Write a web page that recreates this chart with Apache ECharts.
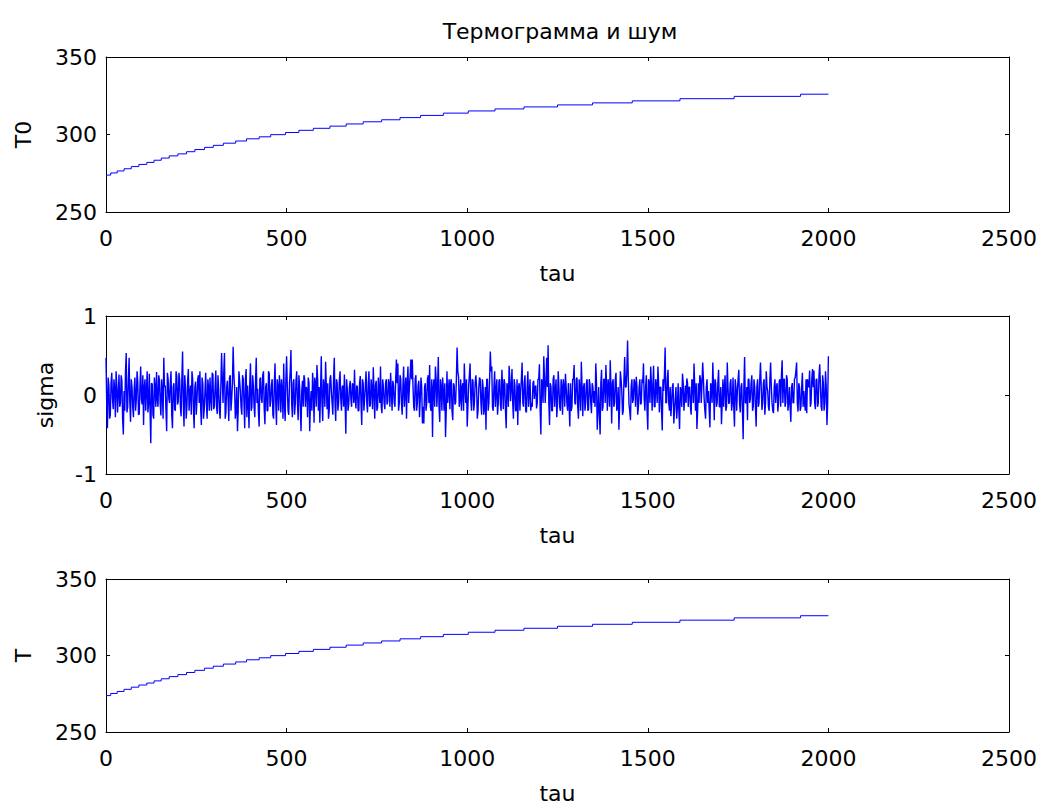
<!DOCTYPE html>
<html><head><meta charset="utf-8">
<script src="https://cdn.jsdelivr.net/npm/echarts@6/dist/echarts.min.js"></script>
<style>html,body{margin:0;padding:0;background:#fff}#c{width:1040px;height:805px}</style>
</head><body><div id="c"></div>
<script>
// ---- data ----
const titleText = 'Термограмма и шум';
const tauMin = 0, tauMax = 2500, tauInterval = 500;
const tauEnd = 2000;
// staircase of the thermogram: tau where each level starts, and the level
const t0StepTau = [0,13,31,50,70,91,113,133,153,175,199,223,246,273,297,325,359,389,424,456,
  497,534,574,620,665,712,763,814,871,934,1003,1077,1157,1250,1347,1457,1589,1739,1923];
const t0Level = [273.8,275.2,276.5,277.9,279.3,280.7,282.0,283.4,284.8,286.2,287.5,288.9,290.3,291.7,
  293.0,294.4,295.8,297.2,298.5,299.9,301.3,302.7,304.0,305.4,306.8,308.2,309.5,310.9,312.3,313.8,
  315.2,316.5,317.8,319.1,320.4,321.7,323.1,324.6,326.0];
// T (bottom panel) reads the same as T0 at this scale
const tStepTau = t0StepTau.slice();
const tLevel = t0Level.slice();
// noise: sigmaA at tau = 0,4,8,...,2000 ; sigmaB at tau = 2,6,10,...,1998
const sigmaDTau = 4;
const sigmaA = [
 0.47,-0.42,0.12,-0.25,0.28,-0.18,0.08,0.3,-0.22,0.26,-0.1,0.18,-0.5,-0.2,0.53,-0.15,0.47,-0.34,0.1,-0.28,0.22,-0.05,0.16,-0.24,0.36,
 -0.12,-0.38,0.2,0.05,-0.22,0.27,-0.61,0.14,-0.3,0.1,0.29,-0.15,0.18,-0.26,0.06,0.47,0.12,-0.46,0.2,-0.1,0.3,-0.42,0.15,-0.2,0.24,
 -0.08,0.19,-0.27,0.55,-0.4,0.1,-0.15,0.33,0.02,-0.25,0.2,-0.42,0.17,-0.05,0.25,0.3,-0.38,0.14,-0.18,0.28,-0.3,0.09,0.22,-0.2,0.26,
 -0.14,0.31,-0.24,0.07,-0.3,0.53,-0.1,0.53,-0.22,0.18,-0.33,0.25,-0.05,0.61,0.1,-0.2,-0.46,0.3,0.05,-0.25,0.2,-0.42,0.33,0.12,-0.42,
 0.4,-0.15,0.12,-0.28,0.47,0.08,-0.4,0.22,-0.1,0.3,-0.37,0.15,-0.2,0.27,-0.08,0.2,-0.3,0.4,-0.38,0.1,0.25,-0.22,0.05,0.4,-0.33,
 0.49,-0.2,0.15,0.57,-0.28,0.2,-0.12,0.3,-0.32,0.1,-0.46,0.18,0.25,-0.15,0.08,0.22,-0.46,0.05,0.28,-0.35,0.15,0.38,-0.2,-0.35,0.49,
 -0.33,0.1,0.42,-0.18,-0.3,0.2,0.05,-0.25,0.47,-0.33,0.15,-0.1,0.3,-0.2,0.12,0.26,-0.49,0.08,-0.12,0.18,-0.15,0.12,0.32,-0.17,0.1,
 -0.2,0.24,-0.38,0.15,-0.05,0.3,-0.22,0.3,-0.12,0.08,0.35,-0.3,0.18,-0.15,0.05,0.36,-0.23,0.1,-0.18,0.2,-0.08,0.14,0.28,-0.2,0.12,
 -0.15,0.45,0.4,-0.1,0.2,-0.25,0.36,0.05,-0.3,0.36,0.1,0.45,0.45,-0.15,0.2,-0.2,0.12,-0.28,0.22,-0.36,-0.36,0.15,-0.1,0.25,0.38,
 -0.2,-0.53,0.2,0.36,-0.15,0.48,-0.34,0.1,0.22,-0.2,-0.53,0.3,0.05,-0.18,0.2,-0.32,0.12,-0.1,0.6,0.23,-0.05,-0.2,0.15,0.4,-0.1,
 -0.4,0.12,0.4,-0.2,0.18,-0.1,0.25,-0.3,0.08,0.2,-0.25,0.1,-0.15,-0.44,0.2,-0.1,0.55,0.36,-0.2,0.3,0.05,-0.25,0.18,-0.12,0.32,
 -0.18,0.15,-0.42,0.1,0.37,-0.08,0.33,-0.3,0.12,-0.2,-0.38,0.15,0.05,0.41,-0.15,0.25,-0.22,0.3,0.02,-0.2,-0.15,0.18,0.1,-0.17,0.2,
 0.39,-0.5,0.15,0.49,-0.1,0.47,0.63,-0.38,0.1,-0.2,0.25,0.05,-0.28,0.3,-0.15,0.2,-0.25,0.12,0.27,-0.1,0.15,-0.4,-0.2,0.2,0.38,
 -0.12,0.22,-0.3,0.08,0.42,-0.27,0.15,-0.1,0.2,-0.18,0.13,-0.23,0.1,0.05,0.4,-0.44,0.1,-0.5,0.32,-0.15,0.2,0.38,-0.2,0.12,0.44,
 -0.36,0.2,-0.1,0.28,-0.15,-0.44,0.3,0.05,-0.2,0.48,0.1,0.69,-0.12,-0.32,0.2,-0.05,0.15,0.23,-0.25,0.1,-0.12,0.2,0.4,-0.2,0.25,
 -0.44,0.15,0.36,-0.2,0.37,-0.15,0.12,0.36,-0.22,0.1,-0.45,0.05,0.6,-0.1,0.32,-0.2,-0.27,0.1,-0.36,-0.05,-0.3,0.15,-0.43,0.05,0.27,
 -0.2,0.12,0.21,-0.15,0.1,-0.25,0.18,0.4,-0.2,-0.43,0.15,0.25,-0.1,0.41,-0.05,-0.3,0.2,0.05,-0.41,0.1,0.41,-0.32,0.15,-0.1,0.32,
 -0.15,-0.37,0.2,0.1,-0.2,0.41,-0.11,0.15,-0.2,0.22,-0.4,0.1,0.05,0.32,-0.22,0.15,-0.56,0.48,-0.1,-0.32,0.2,-0.05,0.25,-0.15,0.1,
 -0.4,0.2,-0.1,0.41,-0.19,0.15,-0.25,0.3,0.05,-0.2,0.41,-0.1,-0.23,0.2,0.1,-0.21,0.18,-0.15,0.44,0.2,-0.15,0.25,-0.2,0.1,-0.34,
 0.15,-0.1,0.22,0.41,-0.21,0.1,-0.15,0.28,0.05,-0.2,-0.23,0.12,0.31,-0.1,0.33,0.31,-0.18,0.2,-0.1,0.39,-0.15,0.25,-0.2,0.3,-0.38,
 0.49
];
const sigmaB = [
 -0.1,0.22,-0.3,0.15,-0.05,0.2,-0.28,0.1,0.02,-0.15,0.25,-0.3,0.05,0.3,-0.22,0.18,-0.1,0.2,-0.15,0.08,-0.2,0.3,-0.25,0.1,-0.05,
 0.25,0.1,-0.2,0.3,-0.1,-0.2,0.15,-0.25,0.22,-0.15,-0.05,0.25,-0.1,0.2,-0.3,0.1,-0.2,0.28,-0.05,0.15,-0.25,0.1,-0.18,0.3,-0.12,
 0.28,-0.15,0.2,-0.1,0.25,-0.3,0.18,-0.2,0.12,0.3,-0.18,0.1,-0.25,0.2,-0.1,-0.15,0.22,-0.3,0.05,-0.12,0.2,-0.2,-0.05,0.28,-0.18,
 0.1,-0.15,0.25,-0.2,0.12,0.2,0.28,-0.3,0.1,-0.05,0.22,-0.2,0.15,0.25,-0.3,0.1,-0.2,0.18,-0.15,0.25,-0.1,0.2,-0.28,-0.1,0.15,
 -0.2,0.25,-0.15,0.18,-0.1,-0.22,0.2,-0.05,0.25,-0.18,0.1,-0.2,0.3,-0.15,0.12,-0.25,0.15,-0.1,0.2,-0.2,0.1,0.2,-0.3,-0.1,0.2,
 0.1,-0.25,0.3,-0.1,0.15,-0.25,0.18,-0.1,0.25,-0.2,0.05,-0.15,0.2,0.1,-0.28,0.15,-0.1,-0.2,0.1,0.22,-0.15,0.2,0.1,0.05,-0.1,
 0.2,-0.15,0.1,0.15,-0.2,0.25,-0.1,0.2,-0.1,0.2,-0.2,0.18,-0.05,0.1,-0.15,-0.1,0.2,-0.2,0.1,-0.05,0.15,-0.1,-0.05,0.12,-0.2,
 0.15,-0.1,0.2,-0.2,0.12,-0.1,0.15,-0.15,0.2,-0.18,0.05,0.12,-0.2,0.22,-0.1,-0.15,0.2,-0.1,0.15,-0.12,0.2,-0.15,0.05,0.18,-0.1,
 0.2,0.15,-0.2,0.25,-0.1,0.1,-0.15,0.22,0.15,-0.1,0.25,0.2,0.1,-0.2,0.25,-0.1,0.18,-0.05,0.1,-0.15,0.1,-0.2,0.2,-0.1,-0.15,
 0.2,0.1,-0.15,0.2,0.1,-0.15,0.2,-0.2,0.05,0.15,-0.2,-0.1,0.2,0.15,-0.2,0.15,-0.12,0.2,0.3,-0.15,0.2,0.1,-0.2,0.1,0.2,
 -0.15,0.25,-0.05,0.2,-0.2,0.15,0.1,-0.2,0.22,-0.1,0.2,-0.25,0.1,0.2,-0.2,0.2,0.3,-0.15,0.1,-0.15,0.2,-0.1,0.2,-0.2,0.1,
 0.2,-0.2,0.15,-0.15,0.2,0.1,-0.1,0.2,-0.2,0.2,0.1,-0.2,0.2,-0.1,0.15,-0.2,0.1,-0.15,0.2,-0.1,0.15,-0.05,0.12,-0.1,0.2,
 -0.2,0.2,-0.1,0.2,0.15,0.1,-0.1,0.15,-0.2,0.2,-0.15,0.2,-0.1,0.1,-0.2,0.1,0.2,-0.15,0.1,-0.2,-0.1,0.15,-0.15,0.2,-0.1,
 0.2,-0.15,0.2,-0.2,0.1,0.1,-0.2,0.15,-0.2,0.2,-0.1,0.15,-0.1,-0.15,0.15,-0.2,-0.25,0.15,-0.2,0.2,-0.1,0.1,0.2,-0.15,0.1,
 0.15,-0.15,0.2,-0.2,0.1,-0.15,0.2,-0.25,0.2,0.1,0.3,0.2,-0.2,0.1,-0.1,0.2,-0.15,0.1,-0.15,0.2,-0.1,0.15,-0.05,0.1,-0.2,
 0.2,-0.1,0.15,0.1,-0.15,0.2,-0.1,0.15,0.1,-0.2,0.2,0.25,-0.1,0.2,-0.1,0.1,-0.1,0.15,-0.2,0.1,-0.15,-0.2,0.1,-0.15,0.15,
 -0.05,-0.1,0.15,0.1,-0.15,0.2,-0.1,0.1,0.15,-0.2,-0.1,0.2,0.15,0.2,-0.2,0.1,-0.1,-0.2,0.15,-0.1,0.1,0.2,-0.15,0.15,-0.15,
 0.1,-0.1,-0.15,0.25,-0.15,0.1,-0.1,0.2,-0.1,-0.15,0.2,-0.2,0.2,-0.1,0.1,-0.2,0.1,-0.1,0.1,0.2,-0.1,0.15,-0.2,0.2,-0.15,
 0.1,-0.15,0.2,0.1,-0.1,0.2,-0.1,0.1,-0.15,0.2,0.1,-0.2,0.1,-0.1,0.15,-0.1,0.2,0.25,-0.1,0.2,-0.1,0.2,-0.1,-0.15,0.1,
 -0.1,0.2,0.3,-0.1,0.15,-0.2,0.1,-0.15,-0.1,0.2,0.2,0.1,-0.15,0.2,0.1,-0.1,0.2,-0.15,0.25,0.1,-0.2,0.15,-0.1,0.1,-0.1
];
const t0Axis = {min: 250, max: 350, interval: 50};
const sigmaAxis = {min: -1, max: 1, interval: 1};
const tAxis = {min: 250, max: 350, interval: 50};

// ---- build ----
// explicit staircase corners: each level held flat until the next step tau
function stairs(taus, levels, end) {
  const d = [];
  for (let i = 0; i < taus.length; i++) {
    const next = i + 1 < taus.length ? taus[i + 1] : end;
    d.push([taus[i], levels[i]]);
    d.push([next, levels[i]]);
  }
  return d;
}
const t0Data = stairs(t0StepTau, t0Level, tauEnd);
const tData = stairs(tStepTau, tLevel, tauEnd);
const sigmaData = [];
sigmaA.forEach((v, i) => {
  sigmaData.push([i * sigmaDTau, v]);
  if (i < sigmaB.length) sigmaData.push([i * sigmaDTau + sigmaDTau / 2, sigmaB[i]]);
});

const FONT = 'DejaVu Sans';
const FS = 22;
const black = '#000';
const grids = [
  {left: 106, top: 57, width: 903, height: 155},
  {left: 106, top: 316, width: 903, height: 158},
  {left: 106, top: 579, width: 903, height: 155}
];
const yNames = ['T0', 'sigma', 'T'];
const yGaps = [72, 50, 72];
const yRanges = [t0Axis, sigmaAxis, tAxis];
const plain = v => String(v);

const xAxes = [], yAxes = [];
grids.forEach((g, i) => {
  const lineCommon = {show: true, onZero: false, lineStyle: {color: black, width: 1}};
  const tickCommon = {show: true, inside: true, length: 4, lineStyle: {color: black, width: 1}};
  xAxes.push({
    gridIndex: i, type: 'value', position: 'bottom', min: tauMin, max: tauMax, interval: tauInterval,
    axisLine: lineCommon, axisTick: tickCommon, splitLine: {show: false},
    axisLabel: {show: true, color: black, fontFamily: FONT, fontSize: FS, margin: 15, formatter: plain, showMinLabel: true, showMaxLabel: true},
    name: 'tau', nameLocation: 'middle', nameGap: 50,
    nameTextStyle: {color: black, fontFamily: FONT, fontSize: FS}
  });
  xAxes.push({
    gridIndex: i, type: 'value', position: 'top', min: tauMin, max: tauMax, interval: tauInterval,
    axisLine: lineCommon, axisTick: tickCommon, splitLine: {show: false}, axisLabel: {show: false}
  });
  const r = yRanges[i];
  yAxes.push({
    gridIndex: i, type: 'value', position: 'left', min: r.min, max: r.max, interval: r.interval,
    axisLine: lineCommon, axisTick: tickCommon, splitLine: {show: false},
    axisLabel: {show: true, color: black, fontFamily: FONT, fontSize: FS, margin: 9, formatter: plain, showMinLabel: true, showMaxLabel: true},
    name: yNames[i], nameLocation: 'middle', nameGap: yGaps[i], nameRotate: 90,
    nameTextStyle: {color: black, fontFamily: FONT, fontSize: FS}
  });
  yAxes.push({
    gridIndex: i, type: 'value', position: 'right', min: r.min, max: r.max, interval: r.interval,
    axisLine: lineCommon, axisTick: tickCommon, splitLine: {show: false}, axisLabel: {show: false}
  });
});

const blue = '#0000ff';
const base = {type: 'line', showSymbol: false, symbol: 'none', animation: false,
  emphasis: {disabled: true}, itemStyle: {color: blue}};
const chart = echarts.init(document.getElementById('c'), null, {renderer: 'svg'});
chart.setOption({
  animation: false,
  backgroundColor: '#fff',
  title: {text: titleText, left: 555, top: 15, textAlign: 'center',
    textStyle: {color: black, fontFamily: FONT, fontSize: FS, fontWeight: 'normal'}},
  grid: grids,
  xAxis: xAxes,
  yAxis: yAxes,
  series: [
    Object.assign({}, base, {name: 'T0', xAxisIndex: 0, yAxisIndex: 0, data: t0Data, lineStyle: {color: blue, width: 1}}),
    Object.assign({}, base, {name: 'T', xAxisIndex: 4, yAxisIndex: 4, data: tData, lineStyle: {color: blue, width: 1}}),
    Object.assign({}, base, {name: 'sigma', xAxisIndex: 2, yAxisIndex: 2, data: sigmaData, lineStyle: {color: blue, width: 1.4}})
  ]
});
</script></body></html>
